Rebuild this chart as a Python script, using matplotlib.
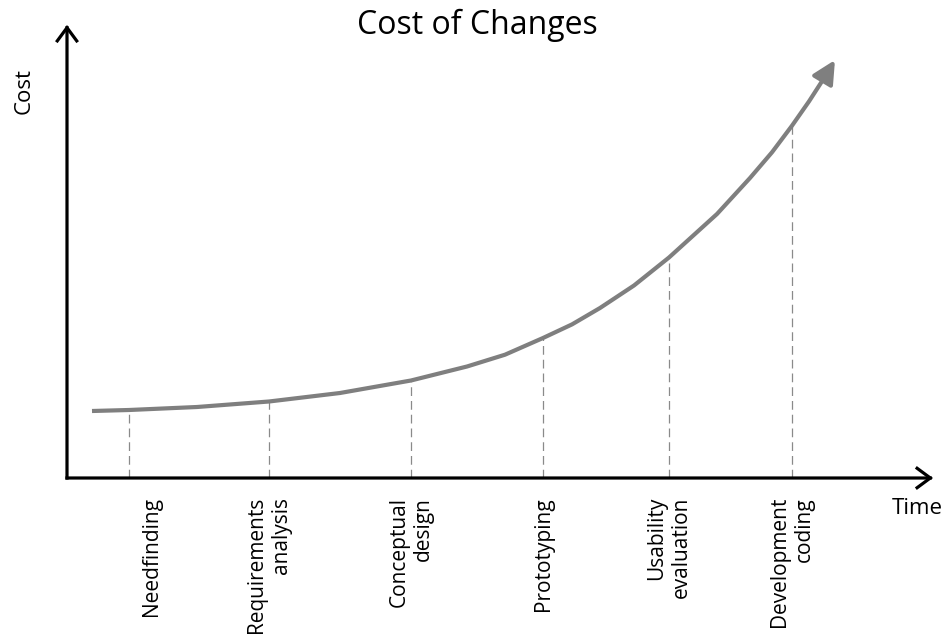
import matplotlib
matplotlib.use("Agg")
import matplotlib.pyplot as plt
from matplotlib.patches import FancyArrowPatch
from matplotlib.path import Path

plt.rcParams['font.family'] = ['Open Sans', 'DejaVu Sans']

# Cost-of-change curve over the project timeline (arbitrary units)
curve_time = [0.25, 0.62, 1.30, 2.02, 2.73, 3.44, 4.00, 4.38, 4.76, 5.05,
              5.33, 5.67, 6.02, 6.50, 6.83, 7.05, 7.25, 7.42, 7.58, 7.68]
curve_cost = [0.670, 0.680, 0.710, 0.765, 0.850, 0.975, 1.115, 1.233, 1.400,
              1.536, 1.700, 1.925, 2.205, 2.640, 3.000, 3.257, 3.523, 3.766,
              4.014, 4.180]

# Project stages and the cost of a change at each stage
stages = ["Needfinding", "Requirements\nanalysis", "Conceptual\ndesign",
          "Prototyping", "Usability\nevaluation", "Development\ncoding"]
stage_time = [0.62, 2.02, 3.44, 4.76, 6.02, 7.25]
stage_cost = [0.680, 0.765, 0.975, 1.400, 2.205, 3.523]

time_axis_end = 8.66
cost_axis_end = 4.53

fig = plt.figure(figsize=(9.46, 6.35), dpi=100)
ax = fig.add_axes([0, 0, 1, 1])
ax.set_xlim(-0.67, 8.79)
ax.set_ylim(-1.57, 4.78)
ax.axis("off")

gray = "#7f7f7f"

# Axes drawn as arrows
for end in [(time_axis_end, 0), (0, cost_axis_end)]:
    ax.add_patch(FancyArrowPatch((0, 0), end,
                                 arrowstyle="->,head_length=9.5,head_width=7",
                                 mutation_scale=1, lw=2.3, color="black",
                                 shrinkA=0, shrinkB=0, joinstyle="miter",
                                 capstyle="projecting", zorder=3))

# Dashed drop lines from each stage to the time axis
ax.vlines(stage_time, 0, stage_cost, colors="#8a8a8a", linewidth=0.9,
          linestyles=(0, (7, 4)), zorder=1)

# Cost curve with arrow head
curve_path = Path(list(zip(curve_time, curve_cost)))
ax.add_patch(FancyArrowPatch(path=curve_path,
                             arrowstyle="-|>,head_length=14,head_width=7",
                             mutation_scale=1, lw=3.0, color=gray,
                             joinstyle="round", capstyle="butt", zorder=2))

# Stage labels below the time axis
label_shift = {"Needfinding": 0.22}
for name, t in zip(stages, stage_time):
    ax.text(t + label_shift.get(name, 0.0), -0.19, name, rotation=90,
            rotation_mode="anchor", ha="right", va="center",
            multialignment="right", fontsize=15, color="black")

ax.text(8.25, -0.30, "Time", fontsize=16, ha="left", va="center")
ax.text(-0.43, 3.87, "Cost", fontsize=16, rotation=90,
        ha="center", va="center")
ax.text(4.10, 4.53, "Cost of Changes", fontsize=23, ha="center", va="center")

fig.savefig("out.png", dpi=100)
